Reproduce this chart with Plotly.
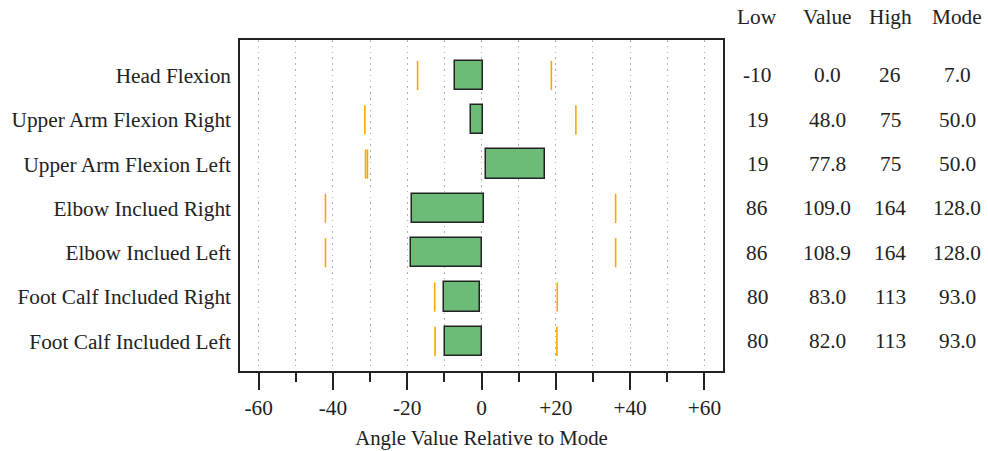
import plotly.graph_objects as go

categories = ["Head Flexion", "Upper Arm Flexion Right", "Upper Arm Flexion Left",
              "Elbow Inclued Right", "Elbow Inclued Left",
              "Foot Calf Included Right", "Foot Calf Included Left"]
low_vals = ["-10", "19", "19", "86", "86", "80", "80"]
value_vals = ["0.0", "48.0", "77.8", "109.0", "108.9", "83.0", "82.0"]
high_vals = ["26", "75", "75", "164", "164", "113", "113"]
mode_vals = ["7.0", "50.0", "50.0", "128.0", "128.0", "93.0", "93.0"]

# bar extents relative to mode
bar_start = [-7.0, -2.7, 1.2, -18.6, -19.1, -10.0, -9.7]
bar_end = [0.5, 0.3, 17.2, 0.6, 0.0, -0.4, 0.0]
# orange markers (low - mode, high - mode) as drawn
mark_low = [-17.2, -31.4, -31.2, -42.0, -42.0, -12.6, -12.5]
mark_high = [18.8, 25.4, -30.7, 36.1, 36.1, 20.4, 20.3]

x_tickvals = [-60, -40, -20, 0, 20, 40, 60]
x_ticktext = ["-60", "-40", "-20", "0", "+20", "+40", "+60"]
col_headers = ["Low", "Value", "High", "Mode"]

FONT = "Liberation Serif"
TXT = "#222222"
FS = 21.3
ypos = list(range(len(categories)))
BW = 0.66
GRID = "#b0b0b0"
GDASH = "1.5px,4.3px"

fig = go.Figure()
fig.add_trace(go.Bar(
    y=ypos, x=[e - s for s, e in zip(bar_start, bar_end)], base=bar_start,
    orientation="h", width=BW,
    marker=dict(color="rgb(108,187,119)", line=dict(color="#222222", width=1.5)),
    hoverinfo="skip", showlegend=False))

mx, my = [], []
for i in ypos:
    for v in (mark_low[i], mark_high[i]):
        mx += [v, v, None]
        my += [i - BW / 2, i + BW / 2, None]
fig.add_trace(go.Scatter(x=mx, y=my, mode="lines",
                         line=dict(color="#FFA500", width=1.6),
                         hoverinfo="skip", showlegend=False))

col_x = [757, 827, 890, 957]
L, R = 240, 723
cols = [low_vals, value_vals, high_vals, mode_vals]
for cx, head, vals in zip(col_x, col_headers, cols):
    xp = (cx - L) / (R - L)
    fig.add_annotation(x=xp, xref="paper", y=1.0695, yref="paper", text=head,
                       showarrow=False, xanchor="center", yanchor="middle",
                       font=dict(family=FONT, size=FS, color=TXT))
    for i, v in enumerate(vals):
        fig.add_annotation(x=xp, xref="paper", y=i, yref="y", text=v,
                           showarrow=False, xanchor="center", yanchor="middle",
                           font=dict(family=FONT, size=FS, color=TXT))

fig.update_layout(
    width=988, height=451,
    margin=dict(l=240, r=265, t=40, b=80, autoexpand=False),
    paper_bgcolor="white", plot_bgcolor="white",
    font=dict(family=FONT, size=FS, color=TXT),
    bargap=0,
)
fig.update_xaxes(
    range=[-65, 65], tickvals=x_tickvals, ticktext=x_ticktext,
    ticks="outside", ticklen=17, tickwidth=1.5, tickcolor="#222222",
    showline=True, linecolor="#222222", linewidth=1.5, mirror=True,
    showgrid=True, gridcolor=GRID, gridwidth=1, griddash=GDASH,
    zeroline=False, automargin=False,
    minor=dict(dtick=10, tick0=0, ticks="outside", ticklen=9, tickwidth=1.5,
               tickcolor="#222222", showgrid=True, gridcolor=GRID,
               griddash=GDASH, gridwidth=1),
    title=dict(text="Angle Value Relative to Mode", standoff=11,
               font=dict(family=FONT, size=20.8, color=TXT)),
    tickfont=dict(family=FONT, size=FS, color=TXT),
)
fig.update_yaxes(
    range=[6.67, -0.80], tickvals=ypos, ticktext=categories,
    ticks="", showgrid=False, zeroline=False, automargin=False,
    showline=True, linecolor="#222222", linewidth=1.5, mirror=True,
    ticklabelstandoff=3,
    tickfont=dict(family=FONT, size=FS, color=TXT),
)

fig.write_html("out.html")
